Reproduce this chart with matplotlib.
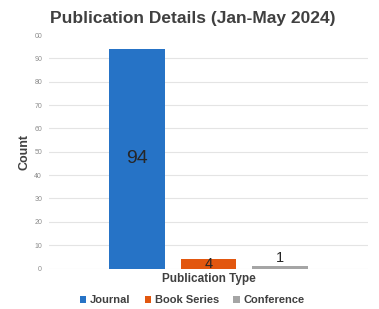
import matplotlib
matplotlib.use("Agg")
import matplotlib.pyplot as plt
from matplotlib.patches import Patch

plt.rcParams['font.family'] = ['Liberation Sans', 'DejaVu Sans']

category = "Publication Type"
series = ["Journal", "Book Series", "Conference"]
values = [94, 4, 1]
colors = ["#2673c6", "#e2570f", "#a5a5a5"]
yticks = [0, 10, 20, 30, 40, 50, 60, 70, 80, 90, 100]
ytick_labels = ["0", "10", "20", "30", "40", "50", "60", "70", "80", "90", "00"]

fig = plt.figure(figsize=(3.79, 3.09), dpi=100)
ax = fig.add_axes([49/379, 1 - 268.5/309, 319/379, 233.5/309])

width = 0.1755
offsets = [-0.2226, 0.0, 0.2226]
for name, v, c, o in zip(series, values, colors, offsets):
    ax.bar(o, v, width=width, color=c, zorder=3)

ax.set_xlim(-0.5, 0.5)
ax.set_ylim(0, 100)
ax.set_yticks(yticks)
ax.set_yticklabels(ytick_labels, fontsize=5, color="#8c8c8c")
ax.tick_params(axis='y', length=0, pad=5)
ax.set_xticks([])
for s in ax.spines.values():
    s.set_visible(False)
for y in yticks[:-1]:
    ax.axhline(y, color="#e4e4e4", lw=0.8, zorder=1)

# value labels
ax.text(offsets[0], values[0] / 2, str(values[0]), ha='center', va='center',
        fontsize=14, color="#262626", zorder=4)
ax.text(offsets[1], values[1] / 2, str(values[1]), ha='center', va='center',
        fontsize=10.5, color="#262626", zorder=4)
ax.text(offsets[2], values[2] + 0.5, str(values[2]), ha='center', va='bottom',
        fontsize=10.5, color="#262626", zorder=4)

ax.set_xlabel(category, fontsize=8.5, fontweight='bold', color="#404040", labelpad=3)
ax.set_ylabel("Count", fontsize=9, fontweight='bold', color="#404040", labelpad=3)

fig.text(0.508, 1 - 18/309, "Publication Details (Jan-May 2024)", ha='center', va='center',
         fontsize=12.5, fontweight='bold', color="#404040")

handles = [Patch(facecolor=c, label=n) for n, c in zip(series, colors)]
fig.legend(handles=handles, loc='center', bbox_to_anchor=(0.507, 1 - 300/309), ncol=3,
           frameon=False, handlelength=0.6, handleheight=0.6,
           handletextpad=0.3, columnspacing=1.3,
           prop={'weight': 'bold', 'size': 8})
for t in fig.legends[0].get_texts():
    t.set_color("#404040")

fig.savefig("out.png", dpi=100)
